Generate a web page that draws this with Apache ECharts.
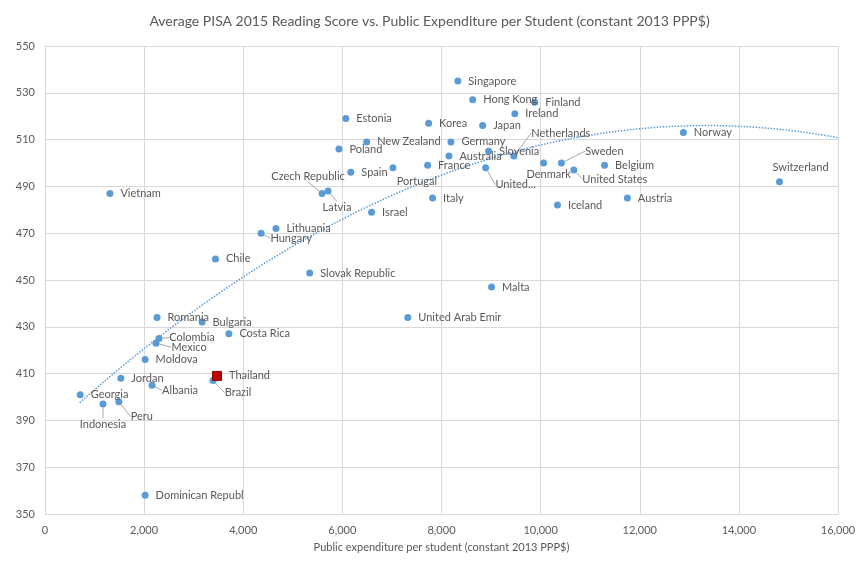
<!DOCTYPE html>
<html>
<head>
<meta charset="utf-8">
<title>PISA 2015 vs expenditure</title>
<script src="https://cdn.jsdelivr.net/npm/echarts@6/dist/echarts.min.js"></script>
<style>
  html, body { margin: 0; padding: 0; background: #fff; }
  #chart { width: 859px; height: 567px; }
</style>
</head>
<body>
<div id="chart"></div>
<script>
// country labels as shown in the chart (some are cut off in the original)
var countries = ['Singapore', 'Hong Kong', 'Finland', 'Ireland', 'Japan', 'Korea', 'Estonia',
  'New Zealand', 'Germany', 'Poland', 'Slovenia', 'Australia', 'Netherlands', 'France',
  'Portugal', 'United...', 'Spain', 'Denmark', 'Sweden', 'United States', 'Belgium', 'Norway',
  'Switzerland', 'Austria', 'Iceland', 'Czech Republic', 'Latvia', 'Italy', 'Israel',
  'Lithuania', 'Hungary', 'Vietnam', 'Chile', 'Slovak Republic', 'Malta', 'United Arab Emir',
  'Romania', 'Bulgaria', 'Costa Rica', 'Colombia', 'Mexico', 'Moldova', 'Jordan', 'Albania',
  'Brazil', 'Georgia', 'Indonesia', 'Peru', 'Dominican Republ'];
var spending = [8330, 8630, 9880, 9480, 8830, 7740, 6070,
  6490, 8190, 5930, 8950, 8150, 9460, 7720,
  7020, 8890, 6170, 10060, 10420, 10670, 11290, 12880,
  14820, 11750, 10340, 5590, 5710, 7820, 6590,
  4660, 4360, 1310, 3440, 5340, 9010, 7320,
  2260, 3170, 3710, 2300, 2240, 2020, 1530, 2160,
  3390, 710, 1170, 1490, 2020];
var scores = [535, 527, 526, 521, 516, 517, 519,
  509, 509, 506, 505, 503, 503, 499,
  498, 498, 496, 500, 500, 497, 499, 513,
  492, 485, 482, 487, 488, 485, 479,
  472, 470, 487, 459, 453, 447, 434,
  434, 432, 427, 425, 423, 416, 408, 405,
  407, 401, 397, 398, 358];

var highlightCountry = ['Thailand'];
var highlightSpending = [3470];
var highlightScore = [409];

var xTicks = [0, 2000, 4000, 6000, 8000, 10000, 12000, 14000, 16000];
var yTicks = [350, 370, 390, 410, 430, 450, 470, 490, 510, 530, 550];

// Excel polynomial trendline (vertex form, x in thousands)
var trendPeakX = 13.35;
var trendPeakY = 516;
var trendCurve = -0.74;
var trendFromX = 700;

// labels that Excel moved away from the point: [dx, dy, leader line]
var labelShift = {
  'Czech Republic': [-14, -17, true],
  'Latvia': [9, 16, true],
  'Portugal': [24, 14, false],
  'United...': [30, 17, true],
  'Netherlands': [47, -23, true],
  'Denmark': [5, 11, false],
  'Sweden': [43, -12, true],
  'United States': [41, 9, true],
  'Switzerland': [21, -14, false],
  'Hungary': [30, 5, true],
  'Colombia': [33, -1, true],
  'Mexico': [33, 4, true],
  'Albania': [28, 5, true],
  'Brazil': [25, 12, true],
  'Indonesia': [0, 20, true],
  'Peru': [23, 15, true]
};

var trend = [];
var xEnd = xTicks[xTicks.length - 1];
for (var i = 0; i <= 120; i++) {
  var xv = trendFromX + (xEnd - trendFromX) * i / 120;
  var d = xv / 1000 - trendPeakX;
  trend.push([xv, trendPeakY + trendCurve * d * d]);
}

var textColor = '#595959';
var font = 'Lato';

var names = countries.concat(highlightCountry);
var points = countries.map(function (name, i) {
  var item = { name: name, value: [spending[i], scores[i]] };
  if (labelShift[name] && labelShift[name][2]) item.labelLine = { show: true };
  return item;
});
highlightCountry.forEach(function (name, i) {
  points.push({
    name: name,
    value: [highlightSpending[i], highlightScore[i]],
    symbol: 'rect',
    symbolSize: 9,
    z: 4,
    itemStyle: { color: '#c00000', borderColor: '#8b0000', borderWidth: 1 }
  });
});

var chart = echarts.init(document.getElementById('chart'));
chart.setOption({
  animation: false,
  textStyle: { fontFamily: font },
  title: {
    text: 'Average PISA 2015 Reading Score vs. Public Expenditure per Student (constant 2013 PPP$)',
    left: 'center',
    top: 9,
    textStyle: { fontSize: 14, fontWeight: 'normal', color: textColor, fontFamily: font }
  },
  grid: { left: 45, right: 21, top: 46, bottom: 53, containLabel: false },
  xAxis: {
    type: 'value',
    min: xTicks[0],
    max: xEnd,
    interval: 2000,
    name: 'Public expenditure per student (constant 2013 PPP$)',
    nameLocation: 'middle',
    nameGap: 28,
    nameTextStyle: { fontSize: 11, color: textColor },
    axisLine: { lineStyle: { color: '#d9d9d9' } },
    axisTick: { show: false },
    axisLabel: {
      color: textColor, fontSize: 11, margin: 11,
      formatter: function (v) { return v.toLocaleString('en-US'); }
    },
    splitLine: { lineStyle: { color: '#d9d9d9' } }
  },
  yAxis: {
    type: 'value',
    min: yTicks[0],
    max: yTicks[yTicks.length - 1],
    interval: 20,
    axisLine: { show: false },
    axisTick: { show: false },
    axisLabel: { color: textColor, fontSize: 11, margin: 10 },
    splitLine: { lineStyle: { color: '#d9d9d9' } }
  },
  series: [
    {
      type: 'line',
      data: trend,
      showSymbol: false,
      silent: true,
      z: 1,
      lineStyle: { color: '#5b9bd5', width: 1.5, type: 'dotted' }
    },
    {
      type: 'scatter',
      data: points,
      symbolSize: 7,
      z: 3,
      itemStyle: { color: '#5b9bd5', opacity: 1 },
      label: {
        show: true,
        position: 'right',
        distance: 7,
        formatter: '{b}',
        color: textColor,
        fontSize: 11,
        fontFamily: font
      },
      labelLine: { show: false, lineStyle: { color: '#a6a6a6', width: 1 } },
      labelLayout: function (p) {
        var o = labelShift[names[p.dataIndex]];
        if (!o) return {};
        return {
          x: p.rect.x + p.rect.width / 2 + o[0],
          y: p.rect.y + p.rect.height / 2 + o[1],
          align: 'center',
          verticalAlign: 'middle'
        };
      }
    }
  ]
});
</script>
</body>
</html>
